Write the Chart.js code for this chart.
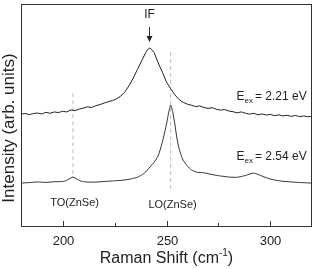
<!DOCTYPE html>
<html>
<head>
<meta charset="utf-8">
<script src="https://cdn.jsdelivr.net/npm/chart.js@4.4.1/dist/chart.umd.min.js"></script>
<style>
  html, body { margin: 0; padding: 0; background: #fff; }
  canvas { display: block; }
</style>
</head>
<body>
<canvas id="ramanChart" width="315" height="269"></canvas>
<script>
// Raman spectra, excitation 2.21 eV (upper) and 2.54 eV (lower)
const upperShift = [180,182,184,186,188,190,192,194,196,198,200,202,204,206,208,210,212,214,216,218,220,222,224,226,228,230,232,234,236,238,240,241,242,243,244,246,248,250,252,254,256,258,260,262,264,266,268,270,272,274,276,278,280,282,284,286,288,290,292,294,296,298,300,302,304,306,308,310,312,314,316,318,320];
const upperIntensity = [50.6,50.9,50.4,50.9,51.1,50.7,51.4,51.0,51.6,51.3,51.9,51.6,52.5,52.2,52.9,53.3,53.9,53.6,54.4,54.9,55.6,56.2,56.7,57.5,58.7,60.6,63.4,66.8,70.6,74.4,78.2,79.6,80.3,79.4,78.3,73.6,69.4,65.0,62.0,59.3,57.2,55.9,55.1,54.6,54.0,54.3,53.6,53.2,53.5,52.8,52.4,52.7,52.0,51.7,51.2,51.6,51.0,50.6,51.0,50.3,50.7,50.2,50.5,49.9,50.3,49.8,50.1,49.6,50.0,49.5,49.8,49.4,49.7];

const lowerShift = [180,184,188,192,196,200,202,204,205,206,208,210,215,220,225,230,233,236,238,240,242,244,246,248,250,251,252,253,254,255,256,257,258,260,262,265,268,271,275,280,284,288,292,296,300,305,310,315,320];
const lowerIntensity = [19.7,19.9,20.2,20.0,20.3,20.4,20.9,22.0,22.4,22.0,20.9,20.3,20.1,20.4,20.7,21.1,21.6,22.3,23.3,24.7,26.9,29.0,32.0,38.0,46.2,51.1,54.7,51.6,46.2,39.9,35.4,32.3,30.0,27.4,25.6,24.5,24.3,23.7,23.0,22.4,22.3,23.1,24.2,22.8,21.5,20.6,20.2,19.9,19.7];

// ZnSe phonon reference lines (TO, LO)
const refShift = [205, 252];
const refTop = [60, 78.5];
const refBottom = [22.6, 17];
const refLabels = ["TO(ZnSe)", "LO(ZnSe)"];

const xTicks = [200, 225, 250, 275, 300];
const excitation = ["2.21 eV", "2.54 eV"];

const toPoints = (xs, ys) => xs.map((x, i) => ({ x: x, y: ys[i] }));

const FONT = "'Liberation Sans', Arial, sans-serif";
const INK = "#222";

// frame, inward ticks, labels and arrow
const decorPlugin = {
    id: "decor",
    afterDraw(chart) {
        const ctx = chart.ctx;
        const a = chart.chartArea;
        const x = chart.scales.x;
        const y = chart.scales.y;
        ctx.save();

        // box around plot
        ctx.strokeStyle = "#333";
        ctx.lineWidth = 1;
        ctx.strokeRect(Math.round(a.left) + 0.5, Math.round(a.top) + 0.5,
            Math.round(a.right - a.left) - 1, Math.round(a.bottom - a.top) - 1);

        // inward ticks and labels on the bottom axis
        ctx.fillStyle = INK;
        ctx.textAlign = "center";
        ctx.textBaseline = "middle";
        ctx.font = "13px " + FONT;
        xTicks.forEach(v => {
            const px = Math.round(x.getPixelForValue(v)) + 0.5;
            const major = v % 50 === 0;
            const len = major ? 5 : 3;
            ctx.beginPath();
            ctx.moveTo(px, a.bottom - 1);
            ctx.lineTo(px, a.bottom - 1 - len);
            ctx.stroke();
            if (major) ctx.fillText(String(v), px, a.bottom + 14);
        });

        // TO / LO labels
        ctx.font = "11px " + FONT;
        ctx.fillText(refLabels[0], x.getPixelForValue(205.8), y.getPixelForValue(10.8));
        ctx.fillText(refLabels[1], x.getPixelForValue(252.9), y.getPixelForValue(9.9));

        // IF marker with arrow
        const ifx = Math.round(x.getPixelForValue(241.6)) + 0.5;
        ctx.font = "12px " + FONT;
        ctx.fillText("IF", ifx, y.getPixelForValue(95));
        ctx.beginPath();
        ctx.moveTo(ifx, y.getPixelForValue(89.7));
        ctx.lineTo(ifx, y.getPixelForValue(85));
        ctx.stroke();
        const tip = y.getPixelForValue(83);
        ctx.beginPath();
        ctx.moveTo(ifx - 3, tip - 6);
        ctx.lineTo(ifx + 3, tip - 6);
        ctx.lineTo(ifx, tip);
        ctx.closePath();
        ctx.fill();

        // excitation energies, E with subscript "ex"
        const ex = x.getPixelForValue(283.7);
        [58.3, 31.4].forEach((v, i) => {
            const py = y.getPixelForValue(v);
            ctx.textAlign = "left";
            ctx.font = "12px " + FONT;
            ctx.fillText("E", ex, py);
            let cx = ex + ctx.measureText("E").width;
            ctx.font = "8px " + FONT;
            ctx.fillText("ex", cx, py + 4);
            cx += ctx.measureText("ex").width + 2;
            ctx.font = "12px " + FONT;
            ctx.fillText("= " + excitation[i], cx, py);
        });

        // x axis title with superscript
        const tx = (a.left + a.right) / 2;
        const ty = 259;
        const partA = "Raman Shift (cm";
        const partC = ")";
        ctx.font = "10px " + FONT;
        const wB = ctx.measureText("-1").width;
        ctx.font = "16px " + FONT;
        const wA = ctx.measureText(partA).width;
        const wC = ctx.measureText(partC).width;
        let sx = tx - (wA + wB + wC) / 2;
        ctx.fillText(partA, sx, ty);
        sx += wA;
        ctx.font = "10px " + FONT;
        ctx.fillText("-1", sx, ty - 6);
        sx += wB;
        ctx.font = "16px " + FONT;
        ctx.fillText(partC, sx, ty);

        // y axis title
        ctx.translate(9, 128);
        ctx.rotate(-Math.PI / 2);
        ctx.textAlign = "center";
        ctx.font = "17px " + FONT;
        ctx.fillText("Intensity (arb. units)", 0, 0);

        ctx.restore();
    }
};

const datasets = [
    {
        data: toPoints(upperShift, upperIntensity),
        borderColor: "#222",
        borderWidth: 1
    },
    {
        data: toPoints(lowerShift, lowerIntensity),
        borderColor: "#333",
        borderWidth: 1,
        tension: 0.2
    }
];
refShift.forEach((s, i) => {
    datasets.push({
        data: [{ x: s, y: refTop[i] }, { x: s, y: refBottom[i] }],
        borderColor: "#bdbdbd",
        borderWidth: 1,
        borderDash: [4, 3]
    });
});

new Chart(document.getElementById("ramanChart").getContext("2d"), {
    type: "line",
    data: { datasets: datasets },
    options: {
        responsive: false,
        animation: false,
        layout: { padding: { top: 4, right: 3, left: 0, bottom: 0 } },
        elements: { point: { radius: 0 }, line: { fill: false } },
        plugins: {
            legend: { display: false },
            tooltip: { enabled: false }
        },
        scales: {
            x: {
                type: "linear",
                min: 180,
                max: 320,
                afterFit: scale => { scale.height = 42; },
                grid: { display: false },
                border: { display: false },
                ticks: { display: false, stepSize: 25 }
            },
            y: {
                min: 0,
                max: 100,
                afterFit: scale => { scale.width = 21; },
                grid: { display: false },
                border: { display: false },
                ticks: { display: false }
            }
        }
    },
    plugins: [decorPlugin]
});
</script>
</body>
</html>
